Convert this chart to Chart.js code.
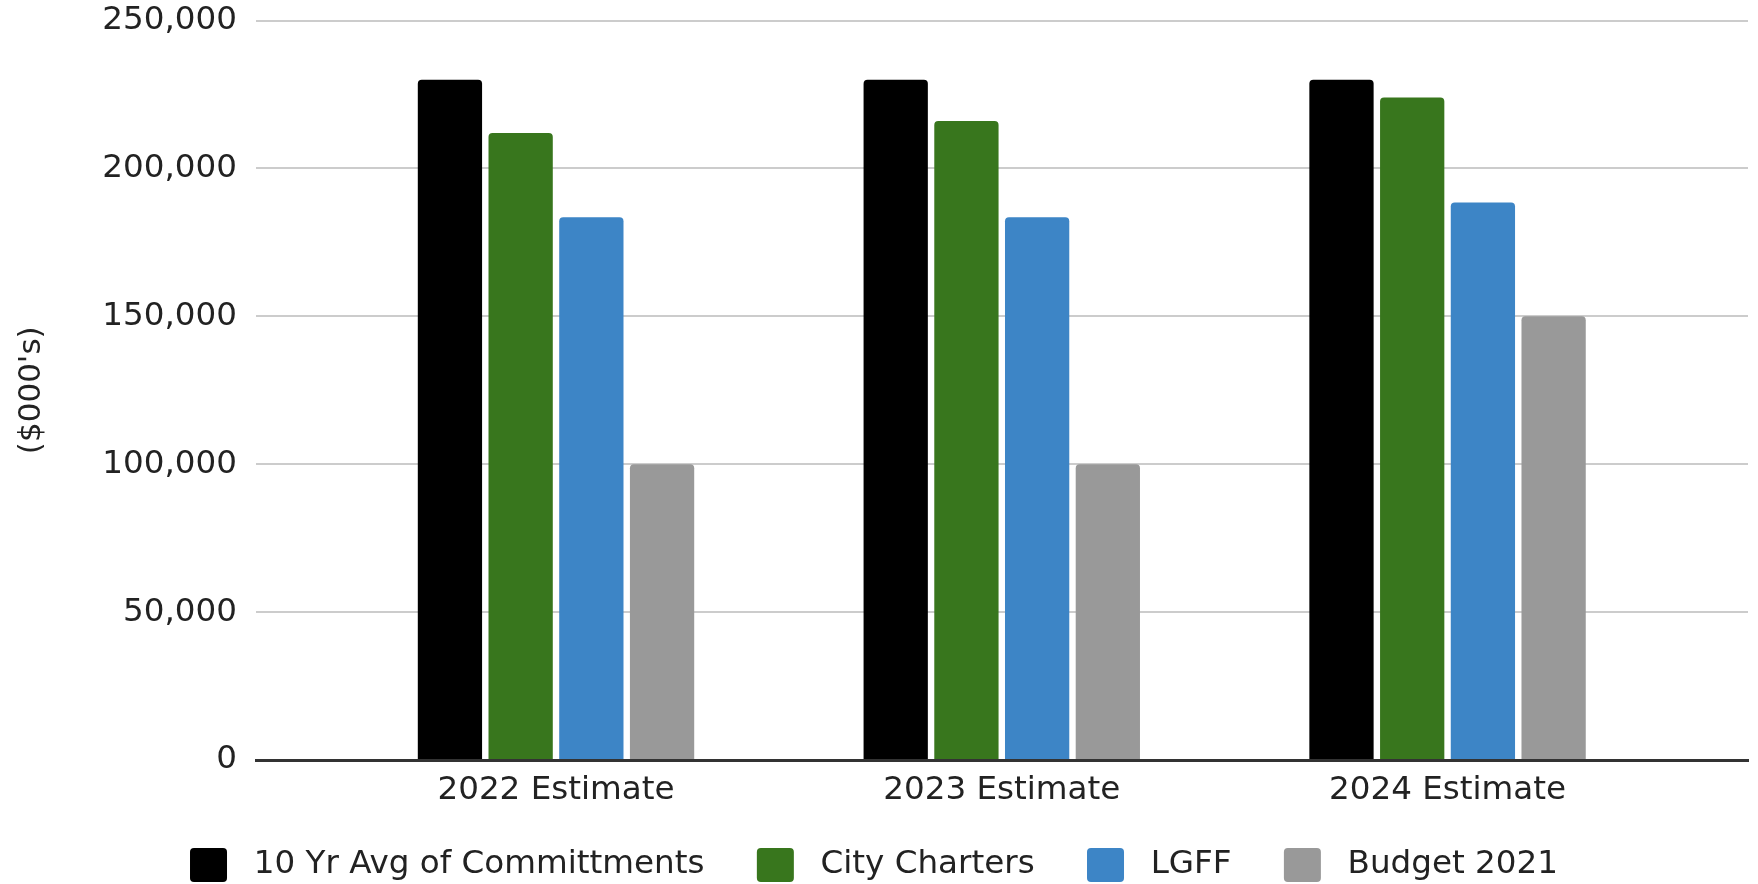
<!DOCTYPE html>
<html>
<head>
<meta charset="utf-8">
<script src="https://cdn.jsdelivr.net/npm/chart.js@4.4.1/dist/chart.umd.min.js"></script>
<style>
  html, body { margin: 0; padding: 0; background: #ffffff; }
  #wrap { width: 1758px; height: 884px; position: relative; }
</style>
</head>
<body>
<div id="wrap"><canvas id="c"></canvas></div>
<script>
const categories = ["2022 Estimate", "2023 Estimate", "2024 Estimate"];
const seriesNames = ["10 Yr Avg of Committments", "City Charters", "LGFF", "Budget 2021"];
const avgCommitments = [230000, 230000, 230000];
const cityCharters = [212000, 216000, 224000];
const lgff = [183500, 183500, 188500];
const budget2021 = [100000, 100000, 150000];
const yTicks = [0, 50000, 100000, 150000, 200000, 250000];
const yTitle = "($000's)";

const colors = ["#000000", "#38761d", "#3d85c6", "#999999"];
const seriesValues = [avgCommitments, cityCharters, lgff, budget2021];
const FONT = "'DejaVu Sans', 'Liberation Sans', Arial, sans-serif";

const datasets = seriesNames.map((name, k) => ({
  label: name,
  data: seriesValues[k].map((v, i) => ({ x: i, y: v })),
  backgroundColor: colors[k],
  borderWidth: 0,
  borderRadius: 4,
  categoryPercentage: 0.6345,
  barPercentage: 0.909
}));

new Chart(document.getElementById('c'), {
  type: 'bar',
  data: { datasets },
  options: {
    responsive: true,
    maintainAspectRatio: false,
    animation: false,
    layout: { padding: { top: 20.5, right: 10, bottom: 0, left: 0 } },
    plugins: {
      tooltip: { enabled: false },
      legend: {
        position: 'bottom',
        align: 'center',
        maxHeight: 78,
        labels: {
          font: { family: FONT, size: 32.6 },
          color: '#222222',
          boxWidth: 37,
          boxHeight: 34,
          padding: 42,
          useBorderRadius: true,
          borderRadius: 4,
          generateLabels(chart) {
            const items = Chart.defaults.plugins.legend.labels.generateLabels(chart);
            items.forEach((it, i) => {
              it.text = ' ' + it.text + (i < items.length - 1 ? ' ' : '');
            });
            return items;
          }
        }
      }
    },
    scales: {
      x: {
        type: 'linear',
        min: -0.673,
        max: 2.674,
        offset: false,
        grid: { display: false, drawTicks: false },
        border: { display: true, color: '#333333', width: 3, z: 1 },
        afterBuildTicks(scale) { scale.ticks = categories.map((_, i) => ({ value: i })); },
        afterFit(scale) { scale.height = 46; scale.paddingLeft = 0; scale.paddingRight = 0; },
        ticks: {
          autoSkip: false,
          maxRotation: 0,
          padding: 17.5,
          color: '#222222',
          font: { family: FONT, size: 32.6, lineHeight: 0.8 },
          callback: (v) => categories[v] !== undefined ? categories[v] : ''
        }
      },
      y: {
        min: 0,
        max: 250000,
        afterBuildTicks(scale) { scale.ticks = yTicks.map(v => ({ value: v })); },
        afterFit(scale) { scale.width = 256; scale.paddingTop = 0; scale.paddingBottom = 0; },
        grid: { color: '#cccccc', lineWidth: 2, drawTicks: false },
        border: { display: false },
        ticks: {
          padding: 19,
          color: '#222222',
          font: { family: FONT, size: 32.6 },
          callback: (v) => v.toLocaleString('en-US')
        },
        title: {
          display: true,
          text: yTitle,
          color: '#222222',
          font: { family: FONT, size: 31 },
          padding: { top: 13.4, bottom: 0 }
        }
      }
    }
  }
});
</script>
</body>
</html>
